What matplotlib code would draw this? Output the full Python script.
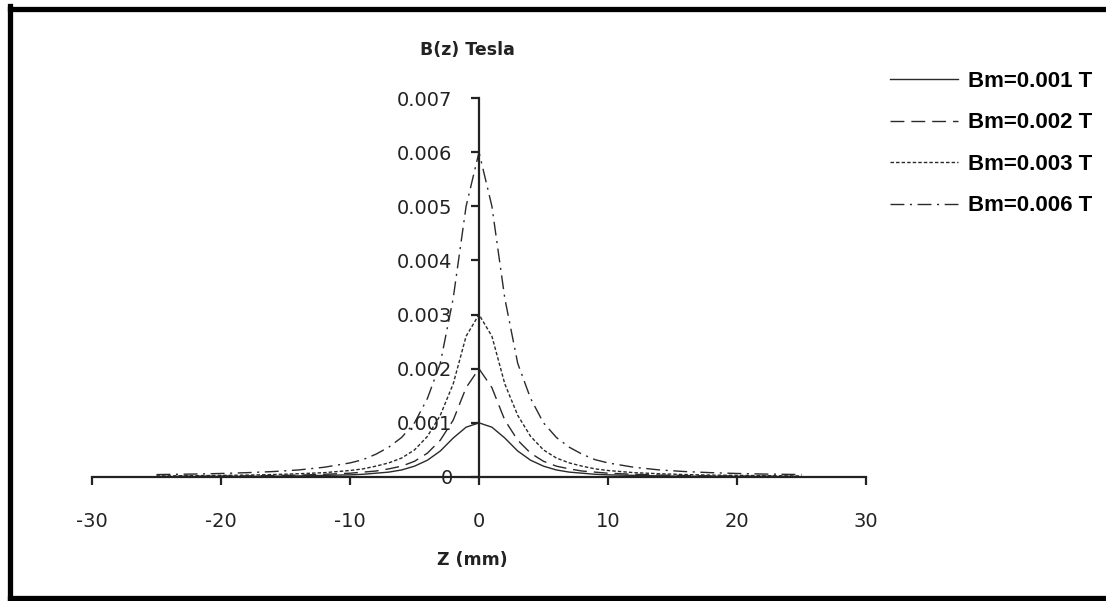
import numpy as np
import matplotlib
matplotlib.use('Agg')
import matplotlib.pyplot as plt
from matplotlib.lines import Line2D

plt.rcParams['axes.unicode_minus'] = False

# axial position along the gap (mm)
z_mm = [-25, -22, -20, -18, -16, -14, -12, -10, -9, -8, -7, -6, -5, -4, -3, -2, -1, 0,
        1, 2, 3, 4, 5, 6, 7, 8, 9, 10, 12, 14, 16, 18, 20, 22, 25]

# field profiles (Tesla)
b_001 = [0.000006, 0.000008, 0.00001, 0.000012, 0.000015, 0.00002, 0.00003, 0.00004, 0.00005,
         0.00007, 0.00009, 0.00013, 0.0002, 0.00031, 0.00048, 0.00072, 0.00092, 0.001,
         0.00092, 0.00072, 0.00048, 0.00031, 0.0002, 0.00013, 0.00009, 0.00007, 0.00005,
         0.00004, 0.00003, 0.00002, 0.000015, 0.000012, 0.00001, 0.000008, 0.000006]
b_002 = [0.00001, 0.000014, 0.000017, 0.00002, 0.000027, 0.000035, 0.00005, 0.00007, 0.00009,
         0.00011, 0.00015, 0.0002, 0.00029, 0.00044, 0.00068, 0.00105, 0.00165, 0.002,
         0.00165, 0.00105, 0.00068, 0.00044, 0.00029, 0.0002, 0.00015, 0.00011, 0.00009,
         0.00007, 0.00005, 0.000035, 0.000027, 0.00002, 0.000017, 0.000014, 0.00001]
b_003 = [0.00002, 0.000025, 0.00003, 0.000035, 0.000045, 0.00006, 0.00008, 0.00012, 0.00015,
         0.0002, 0.00026, 0.00035, 0.0005, 0.00075, 0.00114, 0.00172, 0.0026, 0.003,
         0.0026, 0.00172, 0.00114, 0.00075, 0.0005, 0.00035, 0.00026, 0.0002, 0.00015,
         0.00012, 0.00008, 0.00006, 0.000045, 0.000035, 0.00003, 0.000025, 0.00002]
b_006 = [0.000045, 0.000055, 0.000065, 0.00008, 0.0001, 0.00013, 0.00018, 0.00026, 0.00032,
         0.00042, 0.00055, 0.00073, 0.001, 0.00145, 0.0021, 0.0033, 0.005, 0.006,
         0.005, 0.0033, 0.0021, 0.00145, 0.001, 0.00073, 0.00055, 0.00042, 0.00032,
         0.00026, 0.00018, 0.00013, 0.0001, 0.00008, 0.000065, 0.000055, 0.000045]

labels = ['Bm=0.001 T', 'Bm=0.002 T', 'Bm=0.003 T', 'Bm=0.006 T']
x_ticks = [-30, -20, -10, 0, 10, 20, 30]
y_ticks = [0, 0.001, 0.002, 0.003, 0.004, 0.005, 0.006, 0.007]

W, H = 1106, 601
fig = plt.figure(figsize=(W / 100, H / 100), dpi=100)
ax = fig.add_axes([92 / W, (H - 477) / H, 774 / W, 379 / H])

styles = [
    dict(linestyle='-'),
    dict(linestyle=(0, (10, 5))),
    dict(linestyle=(0, (2.5, 1.5))),
    dict(linestyle=(0, (10, 4, 1.5, 4))),
]
series = [b_001, b_002, b_003, b_006]
handles = []
for vals, st, lab in zip(series, styles, labels):
    ln, = ax.plot(z_mm, vals, color='#2a2a2a', lw=1.0, label=lab, **st)
    handles.append(ln)

ax.set_xlim(-30, 30)
ax.set_ylim(0, 0.007)
ax.set_xticks(x_ticks)
ax.set_yticks(y_ticks)
ax.set_yticklabels(['0' if v == 0 else f'{v:.3f}' for v in y_ticks])

for s in ['top', 'right']:
    ax.spines[s].set_visible(False)
ax.spines['left'].set_position(('data', 0))
for s in ['left', 'bottom']:
    ax.spines[s].set_linewidth(1.6)
    ax.spines[s].set_color('#222222')
ax.tick_params(axis='both', direction='out', length=6, width=1.6, color='#222222',
               labelsize=14, labelcolor='#222222')
ax.tick_params(axis='x', pad=19)
ax.tick_params(axis='y', pad=13)

fig.text(467 / W, 1 - 50 / H, 'B(z) Tesla', ha='center', va='center',
         fontsize=12.5, fontweight='bold', color='#222222')
fig.text(472 / W, 1 - 560 / H, 'Z (mm)', ha='center', va='center',
         fontsize=12.5, fontweight='bold', color='#222222')

leg = fig.legend(handles=handles, labels=labels, loc='upper left',
                 bbox_to_anchor=(870 / W, 1 - 51 / H), frameon=False,
                 handlelength=3.06, handletextpad=0.45, labelspacing=0.92,
                 prop={'family': 'Liberation Sans', 'weight': 'bold', 'size': 16})

# outer border (right edge is cut off in the original)
fig.add_artist(Line2D([9.5 / W, 9.5 / W], [1 - 6 / H, 3 / H], transform=fig.transFigure,
                      color='black', lw=3.8, solid_capstyle='projecting'))
fig.add_artist(Line2D([9.5 / W, 1.0], [1 - 8.5 / H, 1 - 8.5 / H], transform=fig.transFigure,
                      color='black', lw=3.8))
fig.add_artist(Line2D([9.5 / W, 1.0], [3 / H, 3 / H], transform=fig.transFigure,
                      color='black', lw=3.8))

fig.savefig('out.png', dpi=100, facecolor='white')
